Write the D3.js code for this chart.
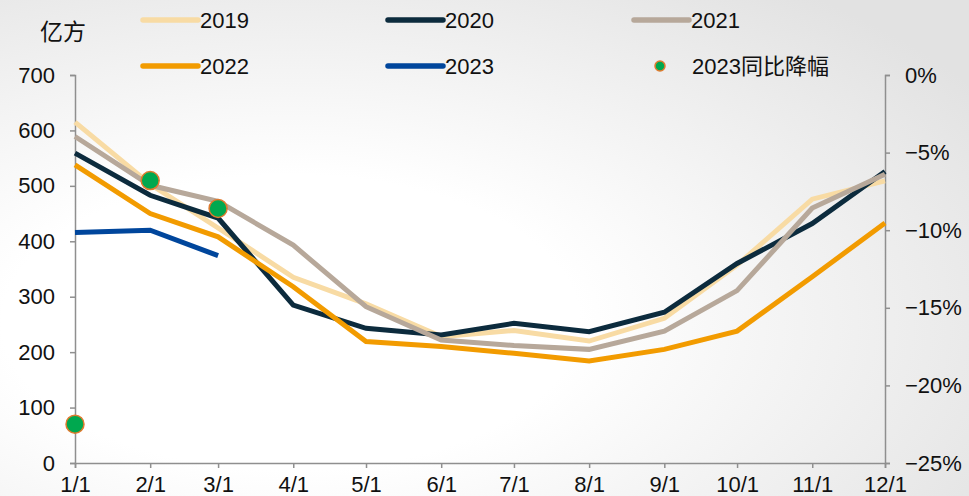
<!DOCTYPE html>
<html><head><meta charset="utf-8">
<script src="https://cdn.jsdelivr.net/npm/d3@7/dist/d3.min.js"></script>
<style>body{margin:0;}svg{display:block;font-family:"Liberation Sans",Arial,"Noto Sans CJK SC",sans-serif;}</style>
</head><body><svg id="c" width="969" height="496"></svg>
<script>
const months = ["1/1","2/1","3/1","4/1","5/1","6/1","7/1","8/1","9/1","10/1","11/1","12/1"];
const v2019 = [615,503,424,335,287,228,239,220,261,357,476,509];
const v2020 = [559,483,442,285,243,231,252,237,272,360,432,526];
const v2021 = [589,501,472,393,282,222,212,205,238,311,460,521];
const v2022 = [538,450,408,318,219,210,198,184,205,238,336,433];
const v2023 = [416,420,374];
const yoy2023 = [-22.5,-6.8,-8.6];
const leftTicks = [0,100,200,300,400,500,600,700];
const rightTicks = [0,-5,-10,-15,-20,-25];

const svg = d3.select("#c");
const defs = svg.append("defs");
const g = defs.append("radialGradient").attr("id","bg").attr("cx","30%").attr("cy","65%").attr("r","85%");
g.append("stop").attr("offset","35%").attr("stop-color","#ffffff");
g.append("stop").attr("offset","100%").attr("stop-color","#e2e2e2");
svg.append("rect").attr("width",969).attr("height",496).attr("fill","url(#bg)");

const dates = months.map(m => { const [mo] = m.split("/"); return new Date(2023, +mo-1, 1); });
const x = d3.scaleTime().domain([dates[0], dates[11]]).range([75, 885]);
const y = d3.scaleLinear().domain([0,700]).range([463,75]);
const yr = d3.scaleLinear().domain([-25,0]).range([463,75]);

const axisColor = "#8f8f8f";
const styleAxis = (sel) => {
  sel.select(".domain").attr("stroke", axisColor).attr("stroke-width",1.5);
  sel.selectAll(".tick line").attr("stroke", axisColor).attr("stroke-width",1.5);
  sel.selectAll(".tick text").attr("fill","#111").attr("font-size","22px").attr("font-family","'Liberation Sans',Arial,sans-serif");
};
const ax = svg.append("g").attr("transform","translate(0,463)")
  .call(d3.axisBottom(x).tickValues(dates).tickFormat((d,i)=>months[i]).tickSizeOuter(0).tickSize(5).tickPadding(8));
styleAxis(ax);
const ay = svg.append("g").attr("transform","translate(75,0)")
  .call(d3.axisLeft(y).tickValues(leftTicks).tickSizeOuter(0).tickSize(5).tickPadding(15));
styleAxis(ay);
const ayr = svg.append("g").attr("transform","translate(885,0)")
  .call(d3.axisRight(yr).tickValues(rightTicks).tickFormat(d => (d<0?"\u2212"+(-d):d)+"%").tickSizeOuter(0).tickSize(5).tickPadding(15));
styleAxis(ayr);

const series = [
  {name:"2019", vals:v2019, color:"#F8DBA4"},
  {name:"2020", vals:v2020, color:"#0C2B3D"},
  {name:"2021", vals:v2021, color:"#B7A89A"},
  {name:"2022", vals:v2022, color:"#F29B00"},
  {name:"2023", vals:v2023, color:"#00469C"}
];
const line = d3.line().x((d,i)=>x(dates[i])).y(d=>y(d));
series.forEach(s => {
  svg.append("path").datum(s.vals).attr("d", line).attr("fill","none")
    .attr("stroke", s.color).attr("stroke-width",5).attr("stroke-linejoin","miter");
});
svg.selectAll("circle.yoy").data(yoy2023).enter().append("circle").attr("class","yoy")
  .attr("cx",(d,i)=>x(dates[i])).attr("cy",d=>yr(d)).attr("r",9)
  .attr("fill","#00A84F").attr("stroke","#E07A2E").attr("stroke-width",1.5);

// y-axis unit
svg.append("text").attr("x",40).attr("y",40).attr("font-size","23px").attr("fill","#111").text("亿方");

// legend
const leg = [
  {name:"2019", color:"#F8DBA4", x:143, y:20},
  {name:"2020", color:"#0C2B3D", x:388, y:20},
  {name:"2021", color:"#B7A89A", x:634, y:20},
  {name:"2022", color:"#F29B00", x:143, y:66},
  {name:"2023", color:"#00469C", x:388, y:66}
];
leg.forEach(l => {
  svg.append("line").attr("x1",l.x).attr("x2",l.x+55).attr("y1",l.y).attr("y2",l.y)
    .attr("stroke",l.color).attr("stroke-width",5.5).attr("stroke-linecap","round");
  svg.append("text").attr("x",l.x+57).attr("y",l.y+8).attr("font-size","22px").attr("fill","#111").text(l.name);
});
svg.append("circle").attr("cx",660).attr("cy",66).attr("r",5).attr("fill","#00A84F").attr("stroke","#E07A2E").attr("stroke-width",1.5);
svg.append("text").attr("x",692).attr("y",74).attr("font-size","22px").attr("fill","#111").text("2023同比降幅");
</script></body></html>
